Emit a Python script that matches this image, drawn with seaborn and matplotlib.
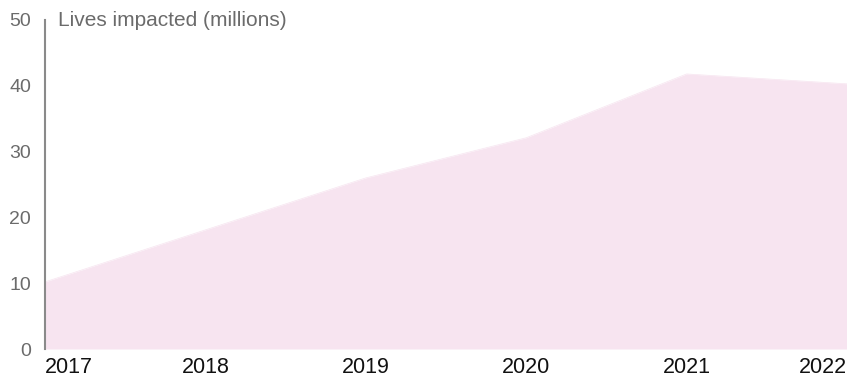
import matplotlib
matplotlib.use("Agg")
import matplotlib.pyplot as plt
import seaborn as sns
import pandas as pd

years = [2017, 2018, 2019, 2020, 2021, 2022]
lives = [10.2, 18.1, 26.0, 32.1, 41.8, 40.3]
y_ticks = [0, 10, 20, 30, 40, 50]
y_label = "Lives impacted (millions)"

df = pd.DataFrame({"year": years, "lives": lives})

sns.set_theme(style="white")
plt.rcParams['font.family'] = ['Liberation Sans', 'DejaVu Sans']

fill_color = "#f7e4f0"
fig = plt.figure(figsize=(8.47, 3.81), dpi=100)
ax = fig.add_axes([45/847, 32/381, 1 - 45/847, (349-20)/381])

sns.lineplot(data=df, x="year", y="lives", ax=ax, color=fill_color, linewidth=0.5)
ax.fill_between(df["year"], 0, df["lives"], color=fill_color, linewidth=0)

ax.set_xlim(2017, 2022)
ax.set_ylim(0, 50)
ax.set_yticks(y_ticks)
ax.set_yticklabels([str(t) for t in y_ticks], color="#6b6b6b", fontsize=14)
ax.set_xticks(years)
ax.set_xticklabels([str(y) for y in years], color="#111111", fontsize=15.5)
labels = ax.get_xticklabels()
labels[0].set_ha("left")
labels[-1].set_ha("right")
ax.tick_params(axis="y", length=0, pad=10)
ax.tick_params(axis="x", length=0, pad=6)
ax.set_xlabel("")
ax.set_ylabel("")

for s in ["top", "right", "bottom"]:
    ax.spines[s].set_visible(False)
ax.spines["left"].set_color("#8a8a8a")
ax.spines["left"].set_linewidth(1.5)

ax.text(58/847, 1 - 20/381, y_label, transform=fig.transFigure, fontsize=15,
        color="#6b6b6b", va="center", ha="left")

fig.savefig("out.png", dpi=100)
